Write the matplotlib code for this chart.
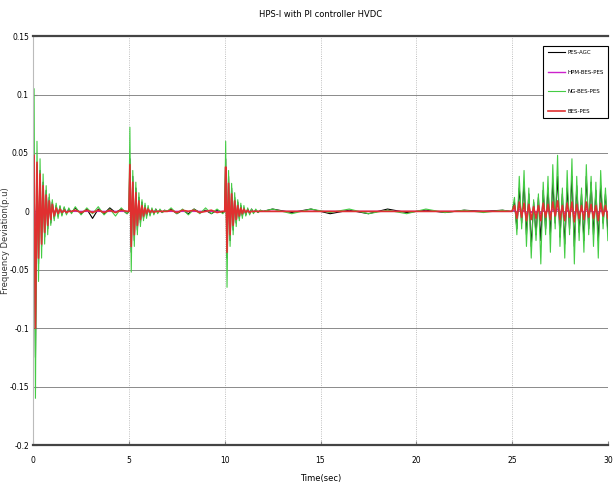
"""
plot.py - frequency deviation of HPS-I with PI controller (HVDC), four cases.
Traces are hand-read peak values per segment (bursts at 0, 5, 10 s, late swing after 25 s).
"""
import numpy as np
import matplotlib
matplotlib.use("Agg")
import matplotlib.pyplot as plt

plt.rcParams["font.family"] = ["Liberation Sans Narrow", "DejaVu Sans"]

# --- shared time stamps (s) --------------------------------------------------
T_BURST = [0.00, 0.05, 0.12, 0.20, 0.28, 0.36, 0.44, 0.52, 0.60, 0.68, 0.76, 0.84,
           0.92, 1.00, 1.10, 1.20, 1.30, 1.40, 1.50, 1.62, 1.74, 1.86, 2.00]
BURST_STARTS = [0.0, 5.0, 10.0]
T_QUIET_1 = [2.2, 2.5, 2.8, 3.1, 3.4, 3.7, 4.0, 4.3, 4.6, 4.9]
T_QUIET_2 = [7.2, 7.5, 7.8, 8.1, 8.4, 8.7, 9.0, 9.3, 9.6, 9.9]
T_QUIET_3 = [12.5, 13.5, 14.5, 15.5, 16.5, 17.5, 18.5, 19.5, 20.5, 21.5, 22.5, 23.5, 24.5, 24.9]
T_LATE = [25.0, 25.125, 25.25, 25.375, 25.5, 25.625, 25.75, 25.875, 26.0, 26.125, 26.25,
          26.375, 26.5, 26.625, 26.75, 26.875, 27.0, 27.125, 27.25, 27.375, 27.5, 27.625,
          27.75, 27.875, 28.0, 28.125, 28.25, 28.375, 28.5, 28.625, 28.75, 28.875, 29.0,
          29.125, 29.25, 29.375, 29.5, 29.625, 29.75, 29.875, 30.0]

# --- PES-AGC (black) -----------------------------------------------------------
pes_agc_b0 = [0, 0.045, -0.125, 0.04, -0.045, 0.035, -0.03, 0.025, -0.022, 0.018, -0.015, 0.012,
              -0.01, 0.008, -0.006, 0.005, -0.004, 0.004, -0.003, 0.003, -0.002, 0.002, -0.001]
pes_agc_q1 = [0.003, -0.002, 0.002, -0.006, 0.002, -0.002, 0.003, -0.001, 0.002, -0.002]
pes_agc_b5 = [0, 0.045, -0.035, 0.03, -0.025, 0.02, -0.016, 0.012, -0.01, 0.008, -0.006, 0.005,
              -0.004, 0.003, -0.003, 0.002, -0.002, 0.002, -0.001, 0.001, -0.001, 0.001, 0]
pes_agc_q2 = [0.002, -0.002, 0.001, -0.002, 0.002, -0.001, 0.001, -0.002, 0.001, -0.001]
pes_agc_b10 = [0, 0.045, -0.04, 0.03, -0.025, 0.02, -0.016, 0.012, -0.01, 0.008, -0.006, 0.005,
               -0.004, 0.003, -0.003, 0.002, -0.002, 0.002, -0.001, 0.001, -0.001, 0.001, 0]
pes_agc_q3 = [0.002, -0.001, 0.002, -0.002, 0.001, -0.002, 0.002, -0.001, 0.001, -0.001,
              0.001, 0, 0.001, 0]
pes_agc_late = [0, 0.008, -0.015, 0.02, -0.01, 0.025, -0.02, 0.015, -0.03, 0.008, -0.02, 0.012,
                -0.025, 0.018, -0.015, 0.02, -0.02, 0.025, -0.01, 0.03, -0.022, 0.015, -0.028,
                0.02, -0.015, 0.03, -0.03, 0.022, -0.018, 0.015, -0.025, 0.03, -0.015, 0.025,
                -0.02, 0.018, -0.025, 0.022, -0.01, 0.015, -0.018]

# --- HPM-BES-PES (magenta) -----------------------------------------------------
hpm_b0 = [0, 0.01, -0.012, 0.006, -0.005, 0.003, -0.002, 0.001, -0.001, 0.001, 0, 0,
          0, 0, 0, 0, 0, 0, 0, 0, 0, 0, 0]
hpm_q1 = [0, 0, 0, 0, 0, 0, 0, 0, 0, 0]
hpm_b5 = [0, 0.006, -0.005, 0.003, -0.002, 0.001, -0.001, 0, 0, 0, 0, 0,
          0, 0, 0, 0, 0, 0, 0, 0, 0, 0, 0]
hpm_q2 = [0, 0, 0, 0, 0, 0, 0, 0, 0, 0]
hpm_b10 = [0, 0.006, -0.005, 0.003, -0.002, 0.001, -0.001, 0, 0, 0, 0, 0,
           0, 0, 0, 0, 0, 0, 0, 0, 0, 0, 0]
hpm_q3 = [0, 0, 0, 0, 0, 0, 0, 0, 0, 0, 0, 0, 0, 0]
hpm_late = [0, 0.001, -0.001, 0.002, -0.001, 0.001, -0.002, 0.001, -0.001, 0.001, -0.001, 0.001,
            -0.002, 0.001, -0.001, 0.001, -0.001, 0.002, -0.001, 0.002, -0.001, 0.001, -0.002,
            0.001, -0.001, 0.002, -0.002, 0.001, -0.001, 0.001, -0.001, 0.002, -0.001, 0.001,
            -0.001, 0.001, -0.002, 0.001, -0.001, 0.001, -0.001]

# --- NG-BES-PES (green) --------------------------------------------------------
ng_b0 = [0, 0.105, -0.16, 0.06, -0.06, 0.045, -0.04, 0.032, -0.028, 0.022, -0.02, 0.015,
         -0.012, 0.01, -0.008, 0.007, -0.006, 0.005, -0.004, 0.004, -0.003, 0.003, -0.002]
ng_q1 = [0.004, -0.003, 0.003, -0.002, 0.004, -0.003, 0.002, -0.004, 0.003, -0.002]
ng_b5 = [0, 0.072, -0.052, 0.035, -0.03, 0.025, -0.02, 0.016, -0.013, 0.01, -0.008, 0.007,
         -0.006, 0.005, -0.004, 0.003, -0.003, 0.002, -0.002, 0.002, -0.001, 0.001, 0]
ng_q2 = [0.003, -0.002, 0.002, -0.003, 0.002, -0.002, 0.003, -0.002, 0.002, -0.002]
ng_b10 = [0, 0.06, -0.065, 0.035, -0.03, 0.024, -0.02, 0.016, -0.013, 0.01, -0.008, 0.007,
          -0.006, 0.005, -0.004, 0.003, -0.003, 0.002, -0.002, 0.002, -0.001, 0.001, 0]
ng_q3 = [0.002, -0.002, 0.002, -0.001, 0.002, -0.002, 0.001, -0.002, 0.002, -0.001,
         0.001, -0.001, 0.001, 0]
ng_late = [0, 0.012, -0.02, 0.03, -0.015, 0.035, -0.03, 0.02, -0.04, 0.01, -0.025, 0.015,
           -0.045, 0.025, -0.02, 0.03, -0.035, 0.04, -0.015, 0.048, -0.03, 0.02, -0.04, 0.035,
           -0.02, 0.045, -0.045, 0.03, -0.025, 0.02, -0.035, 0.04, -0.02, 0.03, -0.03, 0.025,
           -0.04, 0.035, -0.015, 0.02, -0.025]

# --- BES-PES (red) -------------------------------------------------------------
bes_b0 = [0, 0.048, -0.1, 0.042, -0.04, 0.032, -0.028, 0.022, -0.018, 0.014, -0.012, 0.009,
          -0.007, 0.006, -0.004, 0.003, -0.002, 0.002, -0.001, 0.001, -0.001, 0, 0]
bes_q1 = [0.001, -0.001, 0.001, -0.001, 0.001, -0.001, 0.001, -0.001, 0.001, 0]
bes_b5 = [0, 0.04, -0.03, 0.025, -0.02, 0.016, -0.012, 0.009, -0.007, 0.005, -0.004, 0.003,
          -0.002, 0.002, -0.001, 0.001, -0.001, 0, 0, 0, 0, 0, 0]
bes_q2 = [0.001, -0.001, 0.001, 0, 0.001, -0.001, 0, 0.001, -0.001, 0]
bes_b10 = [0, 0.038, -0.035, 0.024, -0.02, 0.015, -0.012, 0.009, -0.007, 0.005, -0.004, 0.003,
           -0.002, 0.002, -0.001, 0.001, -0.001, 0, 0, 0, 0, 0, 0]
bes_q3 = [0, 0, 0, 0, 0, 0, 0, 0, 0, 0, 0, 0, 0, 0]
bes_late = [0, 0.005, -0.006, 0.008, -0.005, 0.007, -0.008, 0.006, -0.007, 0.004, -0.006, 0.005,
            -0.008, 0.007, -0.005, 0.006, -0.007, 0.008, -0.004, 0.009, -0.007, 0.005, -0.008,
            0.007, -0.005, 0.008, -0.009, 0.006, -0.006, 0.005, -0.007, 0.008, -0.005, 0.006,
            -0.006, 0.005, -0.008, 0.007, -0.004, 0.005, -0.006]

LABELS = ["PES-AGC", "HPM-BES-PES", "NG-BES-PES", "BES-PES"]
X_TICKS = [0, 5, 10, 15, 20, 25, 30]
Y_TICKS = [0.15, 0.1, 0.05, 0, -0.05, -0.1, -0.15, -0.2]
Y_TICK_LABELS = ["0.15", "0.1", "0.05", "0", "-0.05", "-0.1", "-0.15", "-0.2"]


def time_axis():
    """Stitch the shared time stamps in segment order."""
    b = [np.asarray(T_BURST) + s for s in BURST_STARTS]
    return np.concatenate([b[0], T_QUIET_1, b[1], T_QUIET_2, b[2], T_QUIET_3, T_LATE])


def series(b0, q1, b5, q2, b10, q3, late):
    return np.concatenate([b0, q1, b5, q2, b10, q3, late])


t = time_axis()
traces = [
    (series(pes_agc_b0, pes_agc_q1, pes_agc_b5, pes_agc_q2, pes_agc_b10, pes_agc_q3, pes_agc_late),
     "black", 0.8),
    (series(hpm_b0, hpm_q1, hpm_b5, hpm_q2, hpm_b10, hpm_q3, hpm_late), "#cc22cc", 1.0),
    (series(ng_b0, ng_q1, ng_b5, ng_q2, ng_b10, ng_q3, ng_late), "#44cc44", 0.8),
    (series(bes_b0, bes_q1, bes_b5, bes_q2, bes_b10, bes_q3, bes_late), "#e03030", 1.2),
]

fig = plt.figure(figsize=(6.14, 4.88), dpi=100)
ax = fig.add_axes([0.054, 0.088, 0.936, 0.838])

for (y, color, lw), label in zip(traces, LABELS):
    ax.plot(t, y, color=color, lw=lw, label=label)

ax.set_xlim(0, 30)
ax.set_ylim(-0.2, 0.15)
ax.set_xticks(X_TICKS)
ax.set_yticks(Y_TICKS)
ax.set_yticklabels(Y_TICK_LABELS)
ax.tick_params(labelsize=5.5, direction="in", length=3, color="#888888")
ax.tick_params(axis="x", pad=8)
ax.tick_params(axis="y", pad=3)

ax.yaxis.grid(True, color="#777777", lw=0.6, ls="-")
ax.xaxis.grid(True, color="#aaaaaa", lw=0.6, ls=":")
for side in ("top", "bottom"):
    ax.spines[side].set_color("#444444")
    ax.spines[side].set_linewidth(1.6)
ax.spines["left"].set_color("#bbbbbb")
ax.spines["right"].set_visible(False)

ax.set_title("HPS-I with PI controller HVDC", fontsize=6, pad=14)
ax.set_xlabel("Time(sec)", fontsize=6, labelpad=6)
ax.set_ylabel("Frequency Deviation(p.u)", fontsize=6, family="DejaVu Sans", color="#333333")
ax.yaxis.set_label_coords(-0.041, 0.5)

leg = ax.legend(loc="upper left", bbox_to_anchor=(0.888, 0.976), fontsize=4,
                fancybox=False, framealpha=1, edgecolor="black", handlelength=3.0,
                handletextpad=0.5, labelspacing=2.6, borderpad=0.8, borderaxespad=0)
leg.get_frame().set_linewidth(0.8)

fig.savefig("out.png", dpi=100)
